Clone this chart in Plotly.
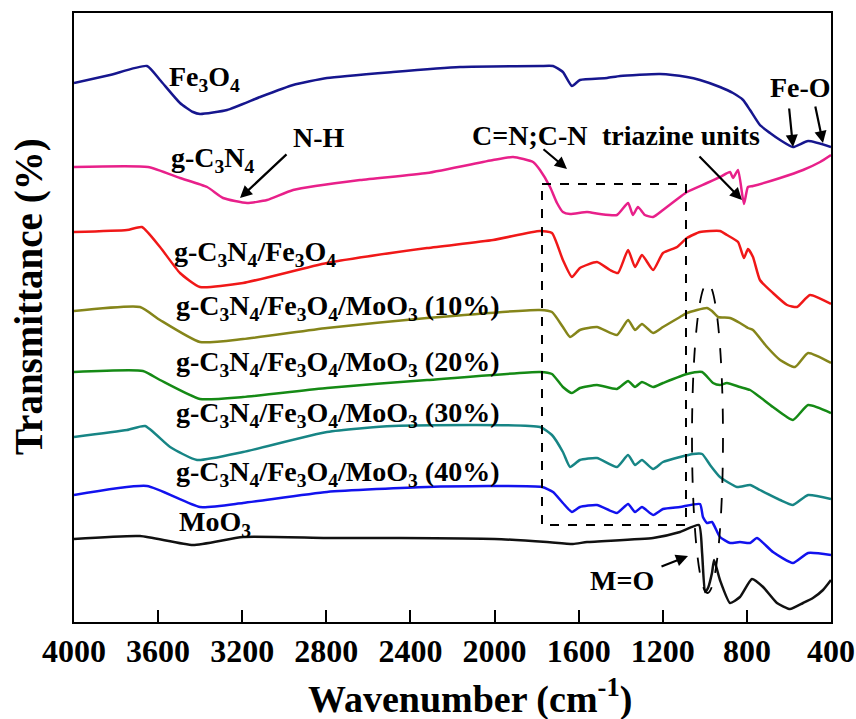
import plotly.graph_objects as go

# ---------------- data (wavenumber in cm-1, transmittance with vertical offsets, a.u.) ----------------
wn_fe3o4 = [4000, 3829, 3653, 3591, 3496, 3434, 3401, 3272, 3115, 2958, 2797, 2483, 2164, 1784, 1722, 1675,
            1632, 1594, 1465, 1403, 1213, 1085, 1023, 928, 866, 818, 785, 738, 690, 642, 581, 509, 400]
t_fe3o4 = [539, 547, 556, 542, 519, 510, 508, 512, 525, 537, 544, 550, 555, 556, 556, 550,
           536, 542, 544, 546, 548, 545, 542, 535, 529, 522, 512, 497, 489, 482, 475, 481, 475]

wn_gcn = [4000, 3648, 3496, 3367, 3291, 3177, 3082, 2958, 2640, 2321, 2007, 1912, 1817, 1784, 1736, 1703, 1675,
          1641, 1560, 1499, 1418, 1365, 1342, 1318, 1285, 1246, 1199, 1118, 1085, 990, 928, 880, 866, 842,
          814, 795, 771, 642, 533, 452, 400]
t_gcn = [455, 455, 444, 435, 424, 419, 422, 432, 442, 449, 462, 465, 460, 452, 435, 419, 410,
         408, 410, 408, 407, 419, 407, 415, 407, 405, 412, 425, 430, 439, 445, 450, 444, 452,
         418, 435, 436, 444, 452, 460, 467]

wn_gf = [4000, 3748, 3677, 3591, 3496, 3401, 3196, 2797, 2321, 2007, 1784, 1727, 1675, 1632, 1594, 1513,
         1451, 1413, 1365, 1332, 1299, 1246, 1199, 1132, 1085, 1023, 928, 895, 842, 814, 795, 771, 738,
         676, 609, 562, 500, 400]
t_gf = [390, 392, 395, 375, 349, 335, 339, 359, 374, 382, 391, 389, 362, 345, 354, 360,
        352, 349, 372, 355, 367, 352, 369, 375, 384, 390, 391, 387, 380, 364, 373, 365, 342,
        329, 317, 315, 327, 318]

wn_10 = [4000, 3686, 3591, 3401, 3196, 2797, 2321, 1784, 1727, 1675, 1641, 1594, 1513, 1418, 1365, 1332,
         1299, 1246, 1199, 1118, 1085, 990, 966, 937, 880, 833, 795, 771, 704, 642, 571, 509, 400]
t_10 = [311, 315, 302, 280, 283, 294, 304, 312, 310, 295, 285, 292, 295, 287, 302, 292,
        298, 289, 295, 305, 309, 314, 311, 305, 304, 299, 294, 292, 275, 262, 255, 269, 259]

wn_20 = [4000, 3672, 3591, 3401, 3196, 2797, 2321, 1784, 1727, 1675, 1632, 1594, 1513, 1418, 1365, 1332,
         1299, 1246, 1199, 1085, 1013, 961, 928, 895, 833, 785, 738, 676, 581, 509, 400]
t_20 = [250, 251, 242, 223, 225, 234, 242, 250, 248, 235, 229, 234, 237, 233, 241, 235,
        240, 235, 239, 248, 250, 239, 237, 239, 235, 232, 225, 215, 202, 217, 209]

wn_30 = [4000, 3748, 3662, 3543, 3415, 3196, 2797, 2483, 1784, 1727, 1675, 1641, 1594, 1513, 1418, 1365,
         1332, 1299, 1246, 1199, 1118, 1056, 1013, 975, 928, 847, 785, 738, 642, 581, 509, 400]
t_30 = [185, 192, 196, 175, 162, 170, 190, 196, 195, 187, 170, 155, 162, 164, 155, 167,
        157, 162, 153, 160, 165, 168, 168, 157, 145, 135, 137, 132, 122, 117, 127, 123]

wn_40 = [4000, 3653, 3401, 3196, 2797, 2321, 1774, 1722, 1675, 1632, 1594, 1513, 1418, 1365, 1332, 1299,
         1246, 1199, 1118, 1023, 1009, 990, 966, 928, 880, 833, 785, 752, 676, 581, 509, 400]
t_40 = [127, 136, 115, 119, 130, 135, 135, 130, 119, 110, 115, 117, 109, 118, 110, 115,
        107, 113, 115, 118, 105, 99, 100, 85, 79, 80, 79, 84, 70, 59, 69, 67]

wn_moo3 = [4000, 3686, 3434, 3196, 2800, 2450, 2000, 1751, 1627, 1560, 1246, 1118, 1028, 1013, 999, 985,
           966, 956, 928, 880, 833, 776, 723, 657, 595, 533, 486, 438, 400]
t_moo3 = [83, 86, 77, 85, 84, 84, 83, 80, 78, 80, 84, 90, 97, 69, 30, 34,
          49, 62, 42, 19, 25, 43, 35, 19, 13, 19, 24, 32, 42]

series_names = ["Fe3O4", "g-C3N4", "g-C3N4/Fe3O4", "g-C3N4/Fe3O4/MoO3 (10%)",
                "g-C3N4/Fe3O4/MoO3 (20%)", "g-C3N4/Fe3O4/MoO3 (30%)",
                "g-C3N4/Fe3O4/MoO3 (40%)", "MoO3"]
x_ticks = [4000, 3600, 3200, 2800, 2400, 2000, 1600, 1200, 800, 400]

# ---------------- styles ----------------
colors = ["#16168e", "#e8208a", "#f01818", "#85851a", "#158a15", "#178585", "#1212ee", "#111111"]
FONT = "Liberation Serif"

xs = [wn_fe3o4, wn_gcn, wn_gf, wn_10, wn_20, wn_30, wn_40, wn_moo3]
ys = [t_fe3o4, t_gcn, t_gf, t_10, t_20, t_30, t_40, t_moo3]

fig = go.Figure()
for i, (x, y) in enumerate(zip(xs, ys)):
    fig.add_trace(go.Scatter(
        x=x, y=y, mode="lines", name=series_names[i],
        line=dict(color=colors[i], width=2.5, shape="spline", smoothing=0.5),
        showlegend=False, hoverinfo="skip"))

# plot area in pixels: left 74, right 831, top 13, bottom 622
L, R, T, B = 74, 831, 13, 622


def P(px, py):
    return (px - L) / (R - L), (B - py) / (B - T)


annots = []


def label(text, px, py, size=28, anchor="left"):
    x, y = P(px, py)
    annots.append(dict(x=x, y=y, xref="paper", yref="paper", text="<b>" + text + "</b>",
                       showarrow=False, xanchor=anchor, yanchor="middle",
                       font=dict(family=FONT, size=size, color="black")))


def arrow(tx, ty, hx, hy):
    x, y = P(hx, hy)
    annots.append(dict(x=x, y=y, xref="paper", yref="paper", text="",
                       showarrow=True, arrowhead=2, arrowsize=1.1, arrowwidth=2.2,
                       arrowcolor="black", ax=tx - hx, ay=ty - hy, standoff=0))


label("Fe<sub>3</sub>O<sub>4</sub>", 167, 79)
label("g-C<sub>3</sub>N<sub>4</sub>", 169, 159)
label("N-H", 291, 137)
label("g-C<sub>3</sub>N<sub>4</sub>/Fe<sub>3</sub>O<sub>4</sub>", 172, 254)
label("g-C<sub>3</sub>N<sub>4</sub>/Fe<sub>3</sub>O<sub>4</sub>/MoO<sub>3</sub> (10%)", 174, 307)
label("g-C<sub>3</sub>N<sub>4</sub>/Fe<sub>3</sub>O<sub>4</sub>/MoO<sub>3</sub> (20%)", 174, 363)
label("g-C<sub>3</sub>N<sub>4</sub>/Fe<sub>3</sub>O<sub>4</sub>/MoO<sub>3</sub> (30%)", 174, 414)
label("g-C<sub>3</sub>N<sub>4</sub>/Fe<sub>3</sub>O<sub>4</sub>/MoO<sub>3</sub> (40%)", 174, 473)
label("MoO<sub>3</sub>", 177, 523)
label("C=N;C-N", 470, 135)
label("triazine units", 600, 135)
label("Fe-O", 768, 88)
label("M=O", 588, 580)

arrow(288, 153, 240, 198)
arrow(542, 148, 567, 169)
arrow(698, 155, 742, 200)
arrow(789, 107, 793, 147)
arrow(815, 105, 823, 143)
arrow(660, 567, 688, 556)

# axis titles
label("Wavenumber (cm<sup>-1</sup>)", 470, 696, size=38, anchor="center")
xt, yt = P(29, 297)
annots.append(dict(x=xt, y=yt, xref="paper", yref="paper", text="<b>Transmittance (%)</b>",
                   showarrow=False, textangle=-90, xanchor="center", yanchor="middle",
                   font=dict(family=FONT, size=39, color="black")))

# dashed rectangle and ellipse
rx0, ry0 = P(542, 184)
rx1, ry1 = P(686, 525)
ex0, ey0 = P(692, 283)
ex1, ey1 = P(723, 593)
shapes = [
    dict(type="rect", xref="paper", yref="paper", x0=rx0, y0=ry0, x1=rx1, y1=ry1,
         line=dict(color="black", width=2, dash="dash")),
    dict(type="circle", xref="paper", yref="paper", x0=ex0, y0=ey0, x1=ex1, y1=ey1,
         line=dict(color="black", width=1.8, dash="longdash")),
]

fig.update_layout(
    width=856, height=719,
    margin=dict(l=L, r=856 - R, t=T, b=719 - B, autoexpand=False),
    paper_bgcolor="white", plot_bgcolor="white",
    annotations=annots, shapes=shapes,
    xaxis=dict(range=[4000, 400], tickmode="array", tickvals=x_ticks,
               ticktext=["<b>%d</b>" % v for v in x_ticks],
               tickfont=dict(family=FONT, size=32, color="black"),
               ticks="inside", ticklen=12, tickwidth=2, tickcolor="black",
               showline=True, linewidth=2, linecolor="black", mirror=True,
               showgrid=False, zeroline=False, automargin=False),
    yaxis=dict(range=[0, B - T], showticklabels=False, ticks="",
               showline=True, linewidth=2, linecolor="black", mirror=True,
               showgrid=False, zeroline=False, automargin=False),
)

fig.write_html("out.html", config={"displayModeBar": False},
               post_script="document.body.style.margin='0';document.body.style.overflow='hidden';")
